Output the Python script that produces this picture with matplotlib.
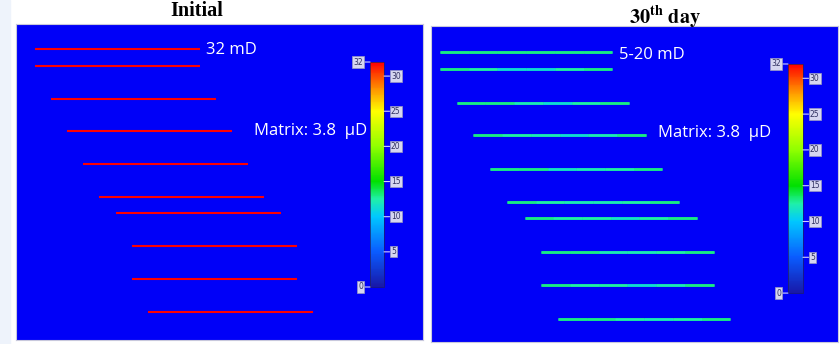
import numpy as np
import matplotlib
matplotlib.use('Agg')
import matplotlib.pyplot as plt
from matplotlib.colors import LinearSegmentedColormap, Normalize
from matplotlib.collections import LineCollection
from matplotlib.patches import Rectangle
from matplotlib.cm import ScalarMappable

plt.rcParams['mathtext.fontset'] = 'stix'

# fracture geometry (grid units, y measured downward from the top of the model)
frac_y = [25, 42, 75, 107, 140, 173, 189, 222, 255, 288]
frac_x0 = [19, 19, 35, 51, 67, 83, 100, 116, 116, 132]
frac_len = 165

# permeability, mD
perm_initial = 32
perm_matrix = '3.8'
# day 30: values along each fracture, left to right
perm_day30 = [
    [13, 13, 13, 13, 13, 13],
    [13, 12.5, 11, 11, 12.5, 13],
    [13, 13, 12, 11, 12.5, 13],
    [13, 12.5, 12, 11, 12, 13],
    [13, 13, 11.5, 12, 12.5, 13],
    [13, 12.5, 12, 12, 12.5, 13],
    [13, 12.5, 12.5, 11.5, 12.5, 13],
    [13, 13, 12, 12, 12.5, 13],
    [13, 12.5, 12.5, 11, 12, 13],
    [13, 13, 12.5, 12, 12.5, 13],
]

cbar_ticks = [5, 10, 15, 20, 25, 30]
vmin, vmax = 0, 32

cmap = LinearSegmentedColormap.from_list('perm', [
    (0.0, '#1818a8'), (5 / 32, '#0a5cff'), (10 / 32, '#00c8ff'),
    (12.5 / 32, '#20f0a8'), (15 / 32, '#00e000'), (20 / 32, '#90ff00'),
    (25 / 32, '#ffff00'), (28 / 32, '#ff9a00'), (1.0, '#ff0000')])
norm = Normalize(vmin, vmax)

fig = plt.figure(figsize=(8.4, 3.44), dpi=100)
fig.patches.append(Rectangle((0, 0), 0.012, 1, transform=fig.transFigure,
                             color='#eef3fb', zorder=0))

ax1 = fig.add_axes([0.019, 0.0116, 0.4845, 0.9186])
ax2 = fig.add_axes([0.5131, 0.0058, 0.4845, 0.9186])

for ax in (ax1, ax2):
    ax.set_facecolor('#0000f8')
    ax.set_xticks([])
    ax.set_yticks([])
    for s in ax.spines.values():
        s.set_color('#c8c8dc')
        s.set_linewidth(0.8)

ax1.set_xlim(0, 407)
ax1.set_ylim(316, 0)
ax2.set_xlim(10.4, 400.2)
ax2.set_ylim(310.7, -0.6)

# initial state: every fracture at full conductivity
for y, x0 in zip(frac_y, frac_x0):
    ax1.plot([x0, x0 + frac_len], [y, y], color=cmap(norm(perm_initial)),
             lw=1.5, solid_capstyle='butt')

# day 30: base line per fracture, then pieces coloured by local permeability
segs, vals = [], []
for y, x0, pv in zip(frac_y, frac_x0, perm_day30):
    ax2.plot([x0, x0 + frac_len], [y, y], color=cmap(norm(max(pv))),
             lw=1.8, solid_capstyle='butt')
    xs = np.linspace(x0, x0 + frac_len, len(pv) + 1)
    for i, v in enumerate(pv):
        segs.append([(xs[i], y), (xs[i + 1], y)])
        vals.append(v)
lc = LineCollection(segs, cmap=cmap, norm=norm, linewidths=1.8,
                    capstyle='butt', zorder=3)
lc.set_array(np.array(vals))
ax2.add_collection(lc)

lbl = dict(color='white', fontsize=12, family='Open Sans', va='center')
ax1.text(190, 26, f'{perm_initial} mD', **lbl)
ax1.text(238, 107, f'Matrix: {perm_matrix}  \u00b5D', **lbl)
ax2.text(190, 28, '5-20 mD', **lbl)
ax2.text(228, 105, f'Matrix: {perm_matrix}  \u00b5D', **lbl)

fig.text(0.234, 0.968, 'Initial', ha='center', va='center', fontsize=14.5,
         family='Liberation Serif', weight='bold')
fig.text(0.792, 0.95, r'$\mathbf{30^{th}\ day}$', ha='center', va='center',
         fontsize=14.5)

# colour bars drawn inside each panel
box = dict(boxstyle='square,pad=0.15', fc='#d6d6f0', ec='#9a9ac0', lw=0.5)
for rect in ([0.4405, 0.1657, 0.0167, 0.654], [0.938, 0.148, 0.0179, 0.666]):
    cax = fig.add_axes(rect)
    cb = fig.colorbar(ScalarMappable(norm=norm, cmap=cmap), cax=cax)
    cb.outline.set_edgecolor('#202060')
    cb.outline.set_linewidth(0.5)
    cax.set_yticks([])
    for t in cbar_ticks:
        cax.annotate(str(t), (1.0, t), xytext=(5, 0), textcoords='offset points',
                     xycoords=('axes fraction', 'data'), fontsize=5.5,
                     color='#303060', va='center', ha='left', bbox=box,
                     arrowprops=dict(arrowstyle='-', color='#d0d0ff', lw=0.8,
                                     shrinkA=0, shrinkB=0))
    for t in (vmax, vmin):
        cax.annotate(str(t), (0.0, t), xytext=(-5, 0), textcoords='offset points',
                     xycoords=('axes fraction', 'data'), fontsize=5.5,
                     color='#303060', va='center', ha='right', bbox=box,
                     arrowprops=dict(arrowstyle='-', color='#d0d0ff', lw=0.8,
                                     shrinkA=0, shrinkB=0))

fig.savefig('out.png', dpi=100)
